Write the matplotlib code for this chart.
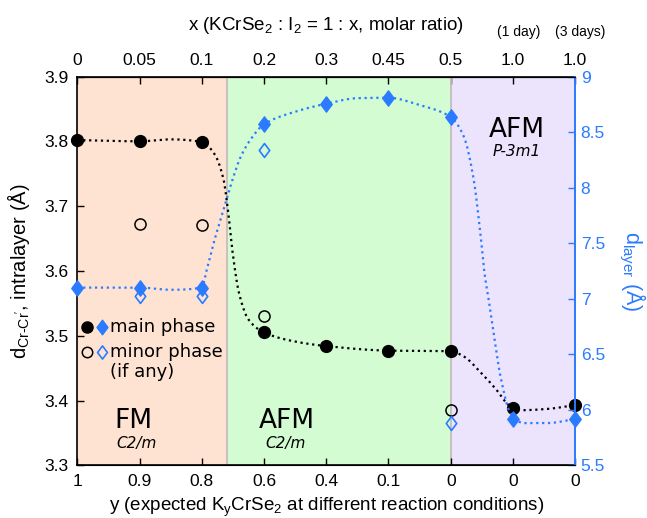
import numpy as np
import matplotlib
matplotlib.use("Agg")
import matplotlib.pyplot as plt
from matplotlib.path import Path

# ---------------- data ----------------
y_labels = ['1', '0.9', '0.8', '0.6', '0.4', '0.1', '0', '0', '0']
x_labels = ['0', '0.05', '0.1', '0.2', '0.3', '0.45', '0.5', '1.0', '1.0']
pos = np.arange(len(y_labels))

crcr_main = [3.802, 3.800, 3.799, 3.505, 3.484, 3.477, 3.476, 3.389, 3.393]
crcr_minor_pos = [1, 2, 3, 6]
crcr_minor = [3.673, 3.671, 3.530, 3.385]

layer_main = [7.10, 7.10, 7.10, 8.57, 8.755, 8.81, 8.635, 5.914, 5.917]
layer_minor_pos = [1, 2, 3, 6]
layer_minor = [7.024, 7.02, 8.338, 5.884]

# guide curves
crcr_curve_x = [0, 1, 1.5, 2, 2.2, 2.35, 2.42, 2.5, 2.6, 2.75, 3, 3.5, 4, 5, 6,
                6.21, 6.47, 6.74, 6.93, 7, 7.12, 7.55, 8]
crcr_curve_y = [3.802, 3.800, 3.803, 3.799, 3.781, 3.741, 3.694, 3.625, 3.565, 3.525,
                3.505, 3.491, 3.484, 3.477, 3.476, 3.468, 3.4445, 3.416, 3.393, 3.389,
                3.385, 3.387, 3.393]
layer_curve_x = [0, 1, 1.5, 2, 2.08, 2.19, 2.35, 2.51, 2.62, 2.78, 3, 3.5, 4, 4.5, 5,
                 5.5, 6, 6.21, 6.37, 6.47, 6.55, 6.61, 6.69, 6.8, 6.96, 7.17, 7.55, 8]
layer_curve_y = [7.10, 7.10, 7.08, 7.10, 7.26, 7.50, 7.80, 8.10, 8.27, 8.43, 8.57, 8.683,
                 8.755, 8.805, 8.809, 8.743, 8.635, 8.46, 8.07, 7.62, 7.20, 6.99, 6.69,
                 6.30, 5.97, 5.88, 5.88, 5.917]

# phase regions
region_edges = [0, 2.41, 6, 8]
region_colors = ['#FFE3D2', '#D3FCD3', '#ECE3FD']
blue = '#2A7BFF'


def pchip(x, y, xn):
    x = np.asarray(x, float); y = np.asarray(y, float)
    h = np.diff(x); d = np.diff(y) / h
    n = len(x); m = np.zeros(n)
    for k in range(1, n - 1):
        if d[k - 1] * d[k] > 0:
            w1 = 2 * h[k] + h[k - 1]; w2 = h[k] + 2 * h[k - 1]
            m[k] = (w1 + w2) / (w1 / d[k - 1] + w2 / d[k])
    m[0] = d[0]; m[-1] = d[-1]
    idx = np.clip(np.searchsorted(x, xn) - 1, 0, n - 2)
    t = (xn - x[idx]) / h[idx]
    h00 = 2 * t**3 - 3 * t**2 + 1; h10 = t**3 - 2 * t**2 + t
    h01 = -2 * t**3 + 3 * t**2; h11 = t**3 - t**2
    return h00 * y[idx] + h10 * h[idx] * m[idx] + h01 * y[idx + 1] + h11 * h[idx] * m[idx + 1]


plt.rcParams['font.family'] = ['Liberation Sans', 'DejaVu Sans']
fig = plt.figure(figsize=(6.47, 5.18), dpi=100)
ax = fig.add_axes([0.1195, 0.1017, 0.7695, 0.7506])
ax2 = ax.twinx()

for i in range(3):
    ax.axvspan(region_edges[i], region_edges[i + 1], color=region_colors[i], lw=0, zorder=0)
for e in region_edges[1:3]:
    ax.axvline(e, color='#C4BDBD', lw=1.3, zorder=0.5)

xd = np.linspace(0, 8, 800)
ax.plot(xd, pchip(crcr_curve_x, crcr_curve_y, xd), ls=':', color='black', lw=1.6, zorder=2)
ax2.plot(xd, pchip(layer_curve_x, layer_curve_y, xd), ls=':', color=blue, lw=1.6, zorder=2)

diamond = Path([(0, 1), (0.75, 0), (0, -1), (-0.75, 0), (0, 1)],
               [Path.MOVETO, Path.LINETO, Path.LINETO, Path.LINETO, Path.CLOSEPOLY])

ax.plot(pos, crcr_main, 'o', color='black', ms=8.5, zorder=4, clip_on=False)
ax.plot(crcr_minor_pos, crcr_minor, 'o', mfc='none', mec='black', mew=1.1, ms=8, zorder=4)
ax2.plot(pos, layer_main, ls='none', marker=diamond, color=blue, ms=11, zorder=4, clip_on=False)
ax2.plot(layer_minor_pos, layer_minor, ls='none', marker=diamond, mfc='none', mec=blue,
         mew=1.2, ms=10, zorder=4)

ax.set_xlim(0, 8)
ax.set_ylim(3.3, 3.9)
ax2.set_ylim(5.5, 9)
ax.set_xticks(pos)
ax.set_xticklabels(y_labels, fontsize=12.5)
ax.set_yticks([3.3, 3.4, 3.5, 3.6, 3.7, 3.8, 3.9])
ax.set_yticklabels(['3.3', '3.4', '3.5', '3.6', '3.7', '3.8', '3.9'], fontsize=12.5)
ax2.set_yticks([5.5, 6, 6.5, 7, 7.5, 8, 8.5, 9])
ax2.set_yticklabels(['5.5', '6', '6.5', '7', '7.5', '8', '8.5', '9'], fontsize=12.5, color=blue)

ax.tick_params(axis='both', direction='in', length=5, width=1, pad=6)
axt = ax.secondary_xaxis('top')
axt.set_xticks(pos)
axt.set_xticklabels(x_labels, fontsize=12.5)
axt.tick_params(direction='in', length=5, width=1, pad=6)
ax2.tick_params(axis='y', direction='in', length=5, width=1, colors=blue, pad=4)
for s in ['left', 'bottom', 'top']:
    ax.spines[s].set_linewidth(1.2)
ax2.spines['right'].set_color(blue)
ax2.spines['right'].set_linewidth(1.4)
ax2.spines['left'].set_visible(False)
ax.spines['right'].set_visible(False)

ax.set_xlabel('y (expected K$_\\mathregular{y}$CrSe$_\\mathregular{2}$ at different reaction conditions)',
              fontsize=13.5, labelpad=5)
axt.set_xlabel('x (KCrSe$_\\mathregular{2}$ : I$_\\mathregular{2}$ = 1 : x, molar ratio)',
               fontsize=13.5, labelpad=17)
ax.set_ylabel("d$_\\mathregular{Cr\u2010Cr'}$, intralayer (\u00c5)", fontsize=14.5, labelpad=9)
ax2.set_ylabel('d$_\\mathregular{layer}$ (\u00c5)', fontsize=15.5, color=blue, rotation=270, labelpad=30)

fig.text(519 / 647, 1 - 32 / 518, '(1 day)', fontsize=10, ha='center', va='center')
fig.text(580 / 647, 1 - 32 / 518, '(3 days)', fontsize=10, ha='center', va='center')

# phase labels
vf = ['DejaVu Sans']
ax.text(0.90, 3.3 + 0.6 * (1 - (421 - 76.5) / 388.8), 'FM', fontsize=19, ha='center', va='center', family=vf)
ax.text(0.95, 3.3 + 0.6 * (1 - (443 - 76.5) / 388.8), 'C2/m', fontsize=11, style='italic',
        ha='center', va='center', family=vf)
ax.text(3.37, 3.3 + 0.6 * (1 - (421 - 76.5) / 388.8), 'AFM', fontsize=19, ha='center', va='center', family=vf)
ax.text(3.34, 3.3 + 0.6 * (1 - (443 - 76.5) / 388.8), 'C2/m', fontsize=11, style='italic',
        ha='center', va='center', family=vf)
ax.text(7.06, 3.3 + 0.6 * (1 - (130 - 76.5) / 388.8), 'AFM', fontsize=19, ha='center', va='center', family=vf)
ax.text(7.06, 3.3 + 0.6 * (1 - (151 - 76.5) / 388.8), 'P-3m1', fontsize=11, style='italic',
        ha='center', va='center', family=vf)

# legend (manual)
def fy(py):
    return 1 - (py - 76.5) / 388.8

def fx(px):
    return (px - 77.3) / (575 - 77.3)

ax.plot([fx(87)], [fy(327)], 'o', color='black', ms=8, transform=ax.transAxes, clip_on=False, zorder=5)
ax.plot([fx(101.5)], [fy(327)], ls='none', marker=diamond, color=blue, ms=10.5,
        transform=ax.transAxes, clip_on=False, zorder=5)
ax.plot([fx(87)], [fy(352)], 'o', mfc='none', mec='black', mew=1.1, ms=7.5,
        transform=ax.transAxes, clip_on=False, zorder=5)
ax.plot([fx(101.5)], [fy(352)], ls='none', marker=diamond, mfc='none', mec=blue, mew=1.2, ms=9.5,
        transform=ax.transAxes, clip_on=False, zorder=5)
ax.text(fx(110), fy(327), 'main phase', fontsize=13, va='center', ha='left', transform=ax.transAxes, family=vf)
ax.text(fx(110), fy(352), 'minor phase', fontsize=13, va='center', ha='left', transform=ax.transAxes, family=vf)
ax.text(fx(110), fy(372), '(if any)', fontsize=13, va='center', ha='left', transform=ax.transAxes, family=vf)

fig.savefig('out.png', dpi=100)
